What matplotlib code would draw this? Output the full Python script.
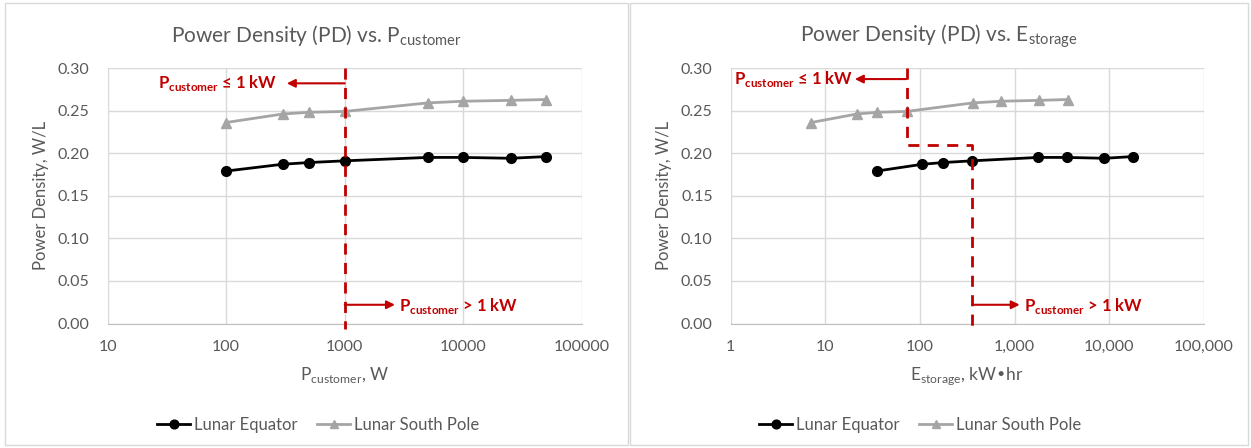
import matplotlib
matplotlib.use("Agg")
import matplotlib.pyplot as plt
from matplotlib.ticker import FixedLocator, NullLocator
from matplotlib.patches import Rectangle

plt.rcParams['font.family'] = ['Lato', 'DejaVu Sans']

# ---- data ----
p_customer = [100, 300, 500, 1000, 5000, 10000, 25000, 50000]
pd_equator = [0.179, 0.187, 0.189, 0.191, 0.195, 0.195, 0.194, 0.196]
pd_south_pole = [0.236, 0.246, 0.248, 0.249, 0.259, 0.261, 0.262, 0.263]
e_storage_equator = [35, 106, 177, 354, 1770, 3540, 8860, 17700]
e_storage_south_pole = [7.1, 21.5, 35.5, 72, 360, 725, 1810, 3650]

left_xticks = [10, 100, 1000, 10000, 100000]
left_xticklabels = ['10', '100', '1000', '10000', '100000']
right_xticks = [1, 10, 100, 1000, 10000, 100000]
right_xticklabels = ['1', '10', '100', '1,000', '10,000', '100,000']
yticks = [0.0, 0.05, 0.10, 0.15, 0.20, 0.25, 0.30]

threshold_p = 1000
threshold_e_sp = 72
threshold_e_eq = 354
step_y = 0.21

GRAY_TXT = '#595959'
GRID = '#d9d9d9'
RED = '#C00000'
SP_COLOR = '#A5A5A5'

fig = plt.figure(figsize=(12.51, 4.48), dpi=100)
W, H = 1251, 448

# panel borders
panels = [(5, 628), (630, 1248)]
for (x0, x1) in panels:
    fig.patches.append(Rectangle((x0 / W, 3 / H), (x1 - x0) / W, (445 - 3) / H,
                                 transform=fig.transFigure, fill=False,
                                 edgecolor='#d9d9d9', linewidth=1.0))

def make_ax(left_px, right_px):
    top, bottom = 68, 323.5
    return fig.add_axes([left_px / W, 1 - bottom / H, (right_px - left_px) / W, (bottom - top) / H])

axL = make_ax(107.5, 582)
axR = make_ax(730.7, 1204)

def style(ax, xlim, ticks, labels):
    ax.set_xscale('log')
    ax.set_xlim(*xlim)
    ax.set_ylim(0, 0.30)
    ax.xaxis.set_major_locator(FixedLocator(ticks))
    ax.xaxis.set_minor_locator(NullLocator())
    ax.set_xticks(ticks)
    ax.set_xticklabels(labels)
    ax.set_yticks(yticks)
    ax.set_yticklabels([f'{v:.2f}' for v in yticks])
    ax.grid(True, color=GRID, linewidth=1.0)
    ax.set_axisbelow(True)
    for s in ['top', 'right', 'left']:
        ax.spines[s].set_visible(False)
    ax.spines['bottom'].set_color('#bfbfbf')
    ax.tick_params(axis='both', length=0, colors=GRAY_TXT, labelsize=11.5)
    ax.tick_params(axis='x', pad=12)
    ax.tick_params(axis='y', pad=13)
    ax.set_ylabel('Power Density, W/L', color=GRAY_TXT, fontsize=12, labelpad=6)

style(axL, (10, 100000), left_xticks, left_xticklabels)
style(axR, (1, 100000), right_xticks, right_xticklabels)

# series
for ax, xe, xs in [(axL, p_customer, p_customer), (axR, e_storage_equator, e_storage_south_pole)]:
    ax.plot(xe, pd_equator, color='black', marker='o', markersize=7, linewidth=2, label='Lunar Equator', zorder=4)
    ax.plot(xs, pd_south_pole, color=SP_COLOR, marker='^', markersize=7, linewidth=2, label='Lunar South Pole', zorder=4)

# titles (centred on each panel)
titles = ['Power Density (PD) vs. P$_{\\mathregular{customer}}$',
          'Power Density (PD) vs. E$_{\\mathregular{storage}}$']
for (x0, x1), t in zip(panels, titles):
    fig.text((x0 + x1) / 2 / W, 1 - 36 / H, t, color=GRAY_TXT, fontsize=15, ha='center', va='center')

axL.set_xlabel('P$_{\\mathregular{customer}}$, W', color=GRAY_TXT, fontsize=12.5, labelpad=8)
axR.set_xlabel('E$_{\\mathregular{storage}}$, kW\u2022hr', color=GRAY_TXT, fontsize=12.5, labelpad=8)

# dashed boundary lines
axL.plot([threshold_p, threshold_p], [0.30, -0.006], color=RED, linestyle=(0, (4, 3)),
         linewidth=2, clip_on=False, zorder=5)
axR.plot([threshold_e_sp, threshold_e_sp, threshold_e_eq, threshold_e_eq],
         [0.30, step_y, step_y, -0.006], color=RED, linestyle=(0, (4, 3)),
         linewidth=2, clip_on=False, zorder=5)

arrow = dict(arrowstyle='-|>', color=RED, lw=1.5, mutation_scale=12, shrinkA=0, shrinkB=0)
le_text = 'P$_{\\mathregular{customer}}$ \u2264 1 kW'
gt_text = 'P$_{\\mathregular{customer}}$ > 1 kW'
tkw = dict(color=RED, fontsize=12, fontweight='bold', va='center')

# left annotations
axL.annotate('', xy=(325, 0.282), xytext=(threshold_p, 0.282), arrowprops=arrow, zorder=6)
axL.text(268, 0.282, le_text, ha='right', **tkw)
axL.annotate('', xy=(2650, 0.022), xytext=(threshold_p, 0.022), arrowprops=arrow, zorder=6)
axL.text(2880, 0.021, gt_text, ha='left', **tkw)

# right annotations
axR.annotate('', xy=(20.5, 0.287), xytext=(threshold_e_sp, 0.287), arrowprops=arrow, zorder=6)
axR.text(19.5, 0.287, le_text, ha='right', **tkw)
axR.annotate('', xy=(1130, 0.022), xytext=(threshold_e_eq, 0.022), arrowprops=arrow, zorder=6)
axR.text(1240, 0.021, gt_text, ha='left', **tkw)

# legends
for ax, cx in [(axL, 318 / W), (axR, 920 / W)]:
    fig.legend(handles=ax.get_lines()[:2], labels=['Lunar Equator', 'Lunar South Pole'],
               loc='center', bbox_to_anchor=(cx, 1 - 425 / H), ncol=2, frameon=False,
               fontsize=12, labelcolor=GRAY_TXT, handlelength=2.0, handletextpad=0.2,
               columnspacing=1.2, markerscale=0.9)

fig.savefig('out.png', dpi=100)
